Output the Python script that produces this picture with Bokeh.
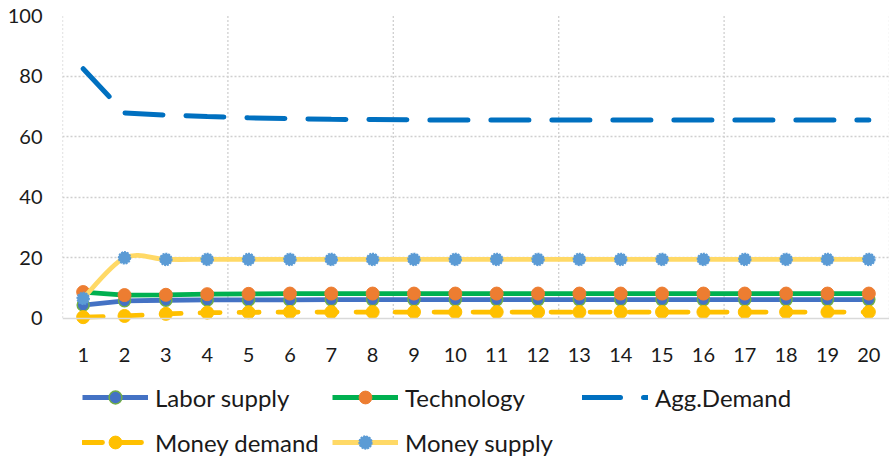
from bokeh.plotting import figure
from bokeh.models import Range1d, FixedTicker, Legend, LegendItem
from bokeh.embed import file_html
from bokeh.resources import INLINE

# Simulation periods and the five series
periods = list(range(1, 21))
labor_supply = [4.3, 5.7, 5.9, 6.0, 6.0, 6.0, 6.1, 6.1, 6.1, 6.1,
                6.1, 6.1, 6.1, 6.1, 6.1, 6.1, 6.1, 6.1, 6.1, 6.1]
technology = [8.6, 7.6, 7.7, 7.9, 8.0, 8.1, 8.1, 8.1, 8.1, 8.1,
              8.1, 8.1, 8.1, 8.1, 8.1, 8.1, 8.1, 8.1, 8.1, 8.1]
agg_demand = [82.4, 67.8, 67.1, 66.6, 66.2, 65.9, 65.7, 65.6, 65.5, 65.5,
              65.5, 65.5, 65.5, 65.5, 65.5, 65.5, 65.5, 65.5, 65.5, 65.5]
money_demand = [0.3, 0.7, 1.4, 1.8, 1.9, 2.0, 2.0, 2.0, 2.0, 2.0,
                2.0, 2.0, 2.0, 2.0, 2.0, 2.0, 2.0, 2.0, 2.0, 2.0]
money_supply = [6.5, 19.9, 19.4, 19.4, 19.4, 19.4, 19.4, 19.4, 19.4, 19.4,
                19.4, 19.4, 19.4, 19.4, 19.4, 19.4, 19.4, 19.4, 19.4, 19.4]

y_ticks = [0, 20, 40, 60, 80, 100]
grid_y = [20, 40, 60, 80, 100]
grid_x = [0.5, 4.5, 8.5, 12.5, 16.5, 20.5]

FONT = "Lato"
TEXT = "#1a1a1a"
GRID = "#cfcfcf"

# The frame reaches the bottom of the canvas; the lower part holds the
# category labels and the legend, so the value range extends below zero.
p = figure(width=889, height=461,
           x_range=Range1d(0.5, 20.5), y_range=Range1d(-47.4, 100),
           output_backend="svg", toolbar_location=None,
           min_border_left=62, min_border_right=0,
           min_border_top=15, min_border_bottom=0)
p.outline_line_color = None
p.background_fill_color = "white"
p.border_fill_color = "white"

# axes
p.xaxis.ticker = FixedTicker(ticks=periods)
p.yaxis.ticker = FixedTicker(ticks=y_ticks)
for ax in (p.xaxis, p.yaxis):
    ax.major_tick_line_color = None
    ax.minor_tick_line_color = None
    ax.major_label_text_font = FONT
    ax.major_label_text_font_size = "20px"
    ax.major_label_text_color = TEXT
p.yaxis.axis_line_color = None
p.yaxis.major_label_standoff = 14
p.xaxis.fixed_location = 0
p.xaxis.axis_line_color = "#d9d9d9"
p.xaxis.axis_line_width = 1.5
p.xaxis.major_label_standoff = 24

# dotted grid: horizontal every 20, vertical every four periods (0..100 only)
p.ygrid.ticker = FixedTicker(ticks=grid_y)
p.ygrid.grid_line_color = GRID
p.ygrid.grid_line_dash = "2 2"
p.ygrid.grid_line_width = 1.3
p.xgrid.visible = False
p.segment(x0=grid_x, y0=[y_ticks[0]] * len(grid_x),
          x1=grid_x, y1=[y_ticks[-1]] * len(grid_x),
          line_color=GRID, line_dash="2 2", line_width=1.3)


def smooth_segments(xs, ys, k=6.0):
    """Cubic Bezier control points for a smoothed path through the points."""
    n = len(xs)
    out = dict(x0=[], y0=[], x1=[], y1=[], cx0=[], cy0=[], cx1=[], cy1=[])
    for i in range(n - 1):
        xp, yp = (xs[i - 1], ys[i - 1]) if i > 0 else (xs[i], ys[i])
        xn, yn = (xs[i + 2], ys[i + 2]) if i + 2 < n else (xs[i + 1], ys[i + 1])
        out["x0"].append(xs[i]); out["y0"].append(ys[i])
        out["x1"].append(xs[i + 1]); out["y1"].append(ys[i + 1])
        out["cx0"].append(xs[i] + (xs[i + 1] - xp) / k)
        out["cy0"].append(ys[i] + (ys[i + 1] - yp) / k)
        out["cx1"].append(xs[i + 1] - (xn - xs[i]) / k)
        out["cy1"].append(ys[i + 1] - (yn - ys[i]) / k)
    return out


LW = 4.8

# Labor supply
r_ls_line = p.line(periods, labor_supply, line_color="#4472c4", line_width=LW)
r_ls_pts = p.scatter(periods, labor_supply, size=12, fill_color="#4472c4",
                     line_color="#70ad47", line_width=1.5)

# Technology
r_te_line = p.line(periods, technology, line_color="#00b050", line_width=LW)
r_te_pts = p.scatter(periods, technology, size=13, fill_color="#ed7d31",
                     line_color="#ed7d31", line_width=1)

# Aggregate demand
r_ad_line = p.line(periods, agg_demand, line_color="#0070c0", line_width=5,
                   line_dash="38 23", line_cap="round")

# Money demand
r_md_line = p.line(periods, money_demand, line_color="#ffc000", line_width=LW,
                   line_dash="20 19", line_cap="round")
r_md_pts = p.scatter(periods, money_demand, size=13, fill_color="#ffc000",
                     line_color="#ffc000", line_width=1)

# Money supply (smoothed)
seg = smooth_segments(periods, money_supply)
r_ms_line = p.bezier(x0=seg["x0"], y0=seg["y0"], x1=seg["x1"], y1=seg["y1"],
                     cx0=seg["cx0"], cy0=seg["cy0"], cx1=seg["cx1"], cy1=seg["cy1"],
                     line_color="#ffd966", line_width=LW)
r_ms_pts = p.scatter(periods, money_supply, size=12, fill_color="#5b9bd5",
                     line_color="#5b9bd5", line_width=1.5, line_dash="2 1")

legend = Legend(items=[
    LegendItem(label="Labor supply", renderers=[r_ls_line, r_ls_pts]),
    LegendItem(label="Technology", renderers=[r_te_line, r_te_pts]),
    LegendItem(label="Agg.Demand", renderers=[r_ad_line]),
    LegendItem(label="Money demand", renderers=[r_md_line, r_md_pts]),
    LegendItem(label="Money supply", renderers=[r_ms_line, r_ms_pts]),
], ncols=3, orientation="horizontal", location=(20, 3))
legend.glyph_width = 66
legend.glyph_height = 32
legend.label_height = 32
legend.label_width = 164
legend.label_standoff = 7
legend.spacing = 13
legend.padding = 0
legend.margin = 0
legend.border_line_color = None
legend.background_fill_alpha = 0
legend.label_text_font = FONT
legend.label_text_font_size = "24px"
legend.label_text_color = TEXT
p.add_layout(legend, "center")

open("out.html", "w").write(file_html(p, INLINE))
